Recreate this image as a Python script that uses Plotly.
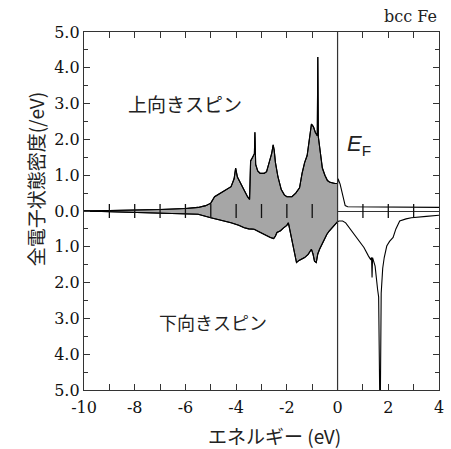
import numpy as np
import plotly.graph_objects as go

# ---- data ----
up_E = [-10, -9, -8, -7, -6, -5.5, -5.2, -5.0, -4.85, -4.6, -4.4, -4.2, -4.08, -4.02, -3.95,
        -3.85, -3.7, -3.55, -3.47, -3.43, -3.35, -3.28, -3.26, -3.23, -3.15, -3.05, -2.9,
        -2.8, -2.7, -2.6, -2.54, -2.5, -2.45, -2.35, -2.22, -2.1, -2.0, -1.8, -1.65, -1.5,
        -1.4, -1.3, -1.2, -1.1, -1.03, -0.95, -0.88, -0.8, -0.78, -0.76, -0.7, -0.6, -0.5,
        -0.4, -0.3, -0.2, -0.1, 0.0,
        0.02, 0.1, 0.2, 0.3, 0.4, 1.0, 2.45, 2.5, 4.0]
up_D = [0.0, 0.01, 0.02, 0.04, 0.07, 0.1, 0.15, 0.22, 0.4, 0.5, 0.6, 0.68, 0.9, 1.2, 0.95,
        0.8, 0.6, 0.4, 0.32, 1.4, 1.5, 1.6, 2.2, 1.3, 1.12, 1.05, 1.05,
        1.1, 1.35, 1.6, 1.85, 1.7, 1.35, 0.95, 0.6, 0.45, 0.4, 0.4, 0.5, 0.65,
        1.05, 1.35, 1.55, 2.1, 2.43, 2.35, 2.2, 2.1, 4.3, 2.08, 1.7, 1.2, 1.0,
        0.85, 0.8, 0.78, 0.77, 0.77,
        0.9, 0.75, 0.45, 0.15, 0.12, 0.12, 0.12, 0.1, 0.1]

dn_E = [-10, -9, -8, -7, -6, -5.5, -5.0, -4.6, -4.2, -3.9, -3.68, -3.5, -3.29, -3.1, -2.91,
        -2.75, -2.65, -2.52, -2.45, -2.39, -2.25, -2.13, -2.0, -1.94, -1.85, -1.75, -1.68,
        -1.62, -1.52, -1.42, -1.3, -1.16, -1.03, -0.97, -0.91, -0.84, -0.78, -0.71, -0.6,
        -0.52, -0.42, -0.33, -0.2, -0.07, 0.0,
        0.06, 0.2, 0.32, 0.45, 0.58, 0.7, 0.84, 1.04, 1.22, 1.3, 1.34, 1.36, 1.38, 1.48,
        1.58, 1.62, 1.66, 1.69, 1.72, 1.78, 1.84, 1.94, 2.05, 2.19, 2.3, 2.45, 2.7, 2.91,
        3.5, 4.0]
dn_D = [0.0, 0.02, 0.03, 0.05, 0.07, 0.09, 0.19, 0.25, 0.33, 0.4, 0.47, 0.5, 0.51, 0.58, 0.65,
        0.7, 0.74, 0.77, 0.7, 0.6, 0.55, 0.47, 0.4, 0.33, 0.65, 1.05, 1.26,
        1.44, 1.38, 1.35, 1.3, 1.21, 1.07, 1.2, 1.4, 1.44, 1.2, 1.07, 0.9,
        0.79, 0.65, 0.56, 0.45, 0.33, 0.3,
        0.28, 0.28, 0.33, 0.45, 0.6, 0.7, 0.84, 1.02, 1.26, 1.35, 1.3, 1.86, 1.3, 1.54,
        2.2, 2.4, 5.0, 5.0, 2.3, 1.6, 1.3, 0.98, 0.85, 0.74, 0.5, 0.28, 0.22, 0.19,
        0.15, 0.12]

y_ticks = [-5, -4, -3, -2, -1, 0, 1, 2, 3, 4, 5]
y_ticktext = ["5.0", "4.0", "3.0", "2.0", "1.0", "0.0", "1.0", "2.0", "3.0", "4.0", "5.0"]
x_ticks = [-10, -8, -6, -4, -2, 0, 2, 4]
x_ticktext = ["-10", "-8", "-6", "-4", "-2", "0", "2", "4"]
zero_line_ticks = [-9, -8, -7, -6, -5, -4, -3, -2, -1, 1, 2, 3]
E_F = 0.0

# ---- figure ----
upE = np.array(up_E); upD = np.array(up_D)
dnE = np.array(dn_E); dnD = -np.array(dn_D)
occ_up = upE <= E_F
occ_dn = dnE <= E_F

FILL = "#a6a6a6"
LINE = dict(color="black", width=1.1)

fig = go.Figure()
fig.add_trace(go.Scatter(x=upE[occ_up], y=upD[occ_up], mode="lines", fill="tozeroy",
                         fillcolor=FILL, line=LINE, hoverinfo="skip"))
fig.add_trace(go.Scatter(x=upE, y=upD, mode="lines", line=LINE, hoverinfo="skip"))
fig.add_trace(go.Scatter(x=dnE[occ_dn], y=dnD[occ_dn], mode="lines", fill="tozeroy",
                         fillcolor=FILL, line=LINE, hoverinfo="skip"))
fig.add_trace(go.Scatter(x=dnE, y=dnD, mode="lines", line=LINE, hoverinfo="skip"))
# tick marks crossing the zero line
fig.add_trace(go.Scatter(x=zero_line_ticks, y=[0] * len(zero_line_ticks), mode="markers",
                         marker=dict(symbol="line-ns", size=10,
                                     line=dict(color="#111", width=1.3)),
                         hoverinfo="skip"))

fig.add_vline(x=E_F, line=dict(color="#333", width=1.2))

serif = dict(family="DejaVu Serif", size=16, color="#111")
jp = "Noto Sans CJK JP"

fig.update_layout(
    width=451, height=449,
    margin=dict(l=84, r=7, t=32, b=59),
    paper_bgcolor="white", plot_bgcolor="white",
    showlegend=False,
    xaxis=dict(range=[-10, 4], tickvals=x_ticks, ticktext=x_ticktext, ticks="inside", ticklen=6,
               tickcolor="#333", showline=True, linecolor="#333", linewidth=1.3,
               mirror="ticks", showgrid=False, zeroline=False, tickfont=serif,
               ticklabelstandoff=3,
               minor=dict(dtick=1, tick0=0, ticks="inside", ticklen=6, tickcolor="#333")),
    yaxis=dict(range=[-5, 5], tickvals=y_ticks, ticktext=y_ticktext, ticks="inside",
               ticklen=6, tickcolor="#333", showline=True, linecolor="#333", linewidth=1.3,
               mirror="ticks", showgrid=False, zeroline=True, zerolinecolor="#333",
               zerolinewidth=1.2, tickfont=serif,
               minor=dict(dtick=0.5, tick0=0, ticks="inside", ticklen=4, tickcolor="#333")),
)

fig.add_annotation(text="全電子状態密度(/eV)", xref="paper", yref="paper", x=0, y=0.587,
                   xshift=-64, textangle=-90, showarrow=False,
                   font=dict(family=jp, size=19, color="#222"))
fig.add_annotation(text="エネルギー (eV)", xref="paper", yref="paper", x=0.5, y=0,
                   xanchor="center", yanchor="middle", xshift=13, yshift=-45,
                   showarrow=False, font=dict(family=jp, size=19, color="#222"))
fig.add_annotation(text="bcc Fe", xref="paper", yref="paper", x=1.0, y=1.0,
                   xanchor="right", yanchor="bottom", yshift=4, showarrow=False,
                   font=dict(family="DejaVu Serif", size=16, color="#222"))
fig.add_annotation(text="上向きスピン", x=-6.0, y=3.0, showarrow=False,
                   font=dict(family=jp, size=19, color="#222"))
fig.add_annotation(text="下向きスピン", x=-4.9, y=-3.1, showarrow=False,
                   font=dict(family=jp, size=18, color="#222"))
fig.add_annotation(text="<i>E</i><sub>F</sub>", x=0.86, y=1.85, showarrow=False,
                   font=dict(family="Liberation Sans", size=22, color="#222"))

fig.write_html("out.html")
